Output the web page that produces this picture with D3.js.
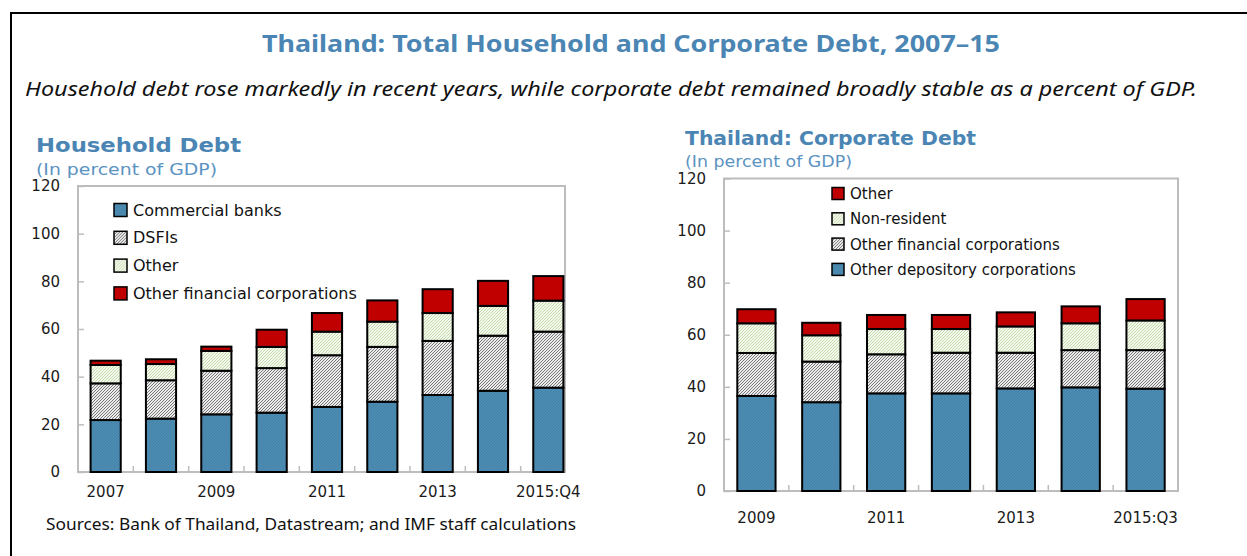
<!DOCTYPE html>
<html>
<head>
<meta charset="utf-8">
<script src="https://cdn.jsdelivr.net/npm/d3@7"></script>
<style>
  body { margin: 0; background: #fff; }
  svg { display: block; }
  .tick text { font-family: "DejaVu Sans", sans-serif; font-size: 15px; fill: #1a1a1a; }
</style>
</head>
<body>
<div id="chart"></div>
<script>
// Household debt, percent of GDP (segment sizes)
var hhCats = ["2007", "2008", "2009", "2010", "2011", "2012", "2013", "2014", "2015:Q4"];
var hhLabels = ["2007", "", "2009", "", "2011", "", "2013", "", "2015:Q4"];
var hhCommercial = [21.8, 22.4, 24.2, 24.9, 27.3, 29.5, 32.3, 34.1, 35.4];
var hhDSFI = [15.4, 16.1, 18.3, 18.7, 21.7, 23.0, 22.7, 23.1, 23.5];
var hhOther = [7.7, 6.8, 8.3, 8.9, 9.9, 10.6, 11.7, 12.5, 13.0];
var hhOFC = [1.8, 2.0, 1.8, 7.2, 7.8, 8.9, 10.0, 10.5, 10.3];

// Corporate debt, percent of GDP (segment sizes)
var cdCats = ["2009", "2010", "2011", "2012", "2013", "2014", "2015:Q3"];
var cdLabels = ["2009", "", "2011", "", "2013", "", "2015:Q3"];
var cdODC = [36.5, 34.1, 37.5, 37.5, 39.4, 39.8, 39.3];
var cdOFC = [16.5, 15.6, 15.0, 15.6, 13.7, 14.3, 14.8];
var cdNonRes = [11.4, 10.1, 9.7, 9.1, 10.1, 10.3, 11.4];
var cdOther = [5.4, 4.8, 5.4, 5.4, 5.4, 6.5, 8.2];

var yTicks = [0, 20, 40, 60, 80, 100, 120];

var w = 1247;
var h = 556;
var blue = "#4a85b4";

var svg = d3.select("#chart").append("svg")
  .attr("width", w)
  .attr("height", h);

// Fill patterns
var defs = svg.append("defs");

function hatch(id, bg, line, size, sw) {
  var p = defs.append("pattern")
    .attr("id", id)
    .attr("patternUnits", "userSpaceOnUse")
    .attr("width", size)
    .attr("height", size);
  p.append("rect").attr("width", size).attr("height", size).attr("fill", bg);
  p.append("path")
    .attr("d", "M0," + size + "L" + size + ",0M-1,1L1,-1M" + (size - 1) + "," + (size + 1) + "L" + (size + 1) + "," + (size - 1))
    .attr("stroke", line)
    .attr("stroke-width", sw);
}
hatch("pBlue", "#4d8cb2", "#427fa6", 3, 0.8);
hatch("pGray", "#ececec", "#505050", 3, 0.75);
hatch("pGreen", "#f5f9ee", "#bcd6a4", 3, 0.9);

// Outer frame
svg.append("path")
  .attr("d", "M11,570V13H1260")
  .attr("fill", "none")
  .attr("stroke", "#000")
  .attr("stroke-width", 2);

// Main title and subtitle
svg.append("text")
  .attr("x", 262).attr("y", 52)
  .attr("textLength", 738).attr("lengthAdjust", "spacingAndGlyphs")
  .style("font-family", "Noto Sans").style("font-weight", "bold").style("font-size", "23px")
  .style("fill", blue)
  .text("Thailand: Total Household and Corporate Debt, 2007–15");

svg.append("text")
  .attr("x", 25).attr("y", 96)
  .attr("textLength", 1172).attr("lengthAdjust", "spacingAndGlyphs")
  .style("font-family", "Noto Sans").style("font-style", "italic").style("font-size", "20px")
  .style("fill", "#111")
  .text("Household debt rose markedly in recent years, while corporate debt remained broadly stable as a percent of GDP.");

function drawPanel(o) {
  var g = svg.append("g");

  var xScale = d3.scaleBand()
    .domain(o.cats)
    .range([o.x0, o.x1])
    .paddingInner(o.pad)
    .paddingOuter(o.pad / 2);

  var yScale = d3.scaleLinear()
    .domain([0, 120])
    .range([o.y0, o.y1]);

  // Panel titles
  g.append("text")
    .attr("x", o.titleX).attr("y", o.titleY)
    .attr("textLength", o.titleLen).attr("lengthAdjust", "spacingAndGlyphs")
    .style("font-family", "DejaVu Sans").style("font-weight", "bold").style("font-size", "20px")
    .style("fill", blue)
    .text(o.title);
  g.append("text")
    .attr("x", o.titleX).attr("y", o.subY)
    .attr("textLength", o.subLen).attr("lengthAdjust", "spacingAndGlyphs")
    .style("font-family", "DejaVu Sans").style("font-size", "15px")
    .style("fill", "#5b93c2")
    .text("(In percent of GDP)");

  // Plot frame
  g.append("rect")
    .attr("x", o.x0).attr("y", yScale(120))
    .attr("width", o.frameR - o.x0).attr("height", yScale(0) - yScale(120))
    .attr("fill", "none")
    .attr("stroke", "#bdbdbd")
    .attr("stroke-width", 2);

  // Y axis
  var yAxis = d3.axisLeft(yScale)
    .tickValues(yTicks)
    .tickSize(-6)
    .tickPadding(18);
  var ya = g.append("g")
    .attr("transform", "translate(" + o.x0 + ",0)")
    .call(yAxis);
  ya.select(".domain").remove();
  ya.selectAll("line").attr("stroke", "#bdbdbd").attr("stroke-width", 1.5);

  // X axis labels
  var xAxis = d3.axisBottom(xScale)
    .tickSize(0)
    .tickPadding(o.xPad)
    .tickFormat(function(d, i) { return o.labels[i]; });
  var xa = g.append("g")
    .attr("transform", "translate(0," + o.y0 + ")")
    .call(xAxis);
  xa.select(".domain").remove();

  // Tick marks at category boundaries
  var step = xScale.step();
  var bounds = o.cats.slice(1).map(function(c) {
    return xScale(c) - step * o.pad / 2;
  });
  g.selectAll(".bnd")
    .data(bounds)
    .enter().append("line")
    .attr("x1", function(d) { return d; })
    .attr("x2", function(d) { return d; })
    .attr("y1", o.y0)
    .attr("y2", o.y0 - 6)
    .attr("stroke", "#bdbdbd")
    .attr("stroke-width", 1.5);

  // Stacked bars
  var rows = o.cats.map(function(c, i) {
    var r = { cat: c };
    o.series.forEach(function(s) { r[s.key] = s.values[i]; });
    return r;
  });
  var stack = d3.stack().keys(o.series.map(function(s) { return s.key; }));
  var layers = stack(rows);

  g.selectAll(".layer")
    .data(layers)
    .enter().append("g")
    .attr("fill", function(d, i) { return o.series[i].fill; })
    .selectAll("rect")
    .data(function(d) { return d; })
    .enter().append("rect")
    .attr("x", function(d) { return xScale(d.data.cat); })
    .attr("y", function(d) { return yScale(d[1]); })
    .attr("width", xScale.bandwidth())
    .attr("height", function(d) { return yScale(d[0]) - yScale(d[1]); })
    .attr("stroke", "#000")
    .attr("stroke-width", 2);

  // Legend
  var leg = g.selectAll(".leg")
    .data(o.legend)
    .enter().append("g")
    .attr("transform", function(d, i) {
      return "translate(" + o.legX + "," + (o.legY + i * o.legStep) + ")";
    });
  leg.append("rect")
    .attr("x", 0).attr("y", -o.sq / 2)
    .attr("width", o.sq).attr("height", o.sq)
    .attr("fill", function(d) { return d.fill; })
    .attr("stroke", "#000")
    .attr("stroke-width", 1.5);
  leg.append("text")
    .attr("x", o.sq + 6)
    .attr("y", 5.5)
    .style("font-family", "DejaVu Sans").style("font-size", o.legFont)
    .style("fill", "#111")
    .text(function(d) { return d.name; });
}

drawPanel({
  cats: hhCats, labels: hhLabels,
  x0: 78, x1: 576, frameR: 565, pad: 0.455,
  y0: 472, y1: 186, xPad: 14,
  title: "Household Debt", titleX: 36, titleY: 152, titleLen: 205,
  subY: 175, subLen: 181,
  series: [
    { key: "cb", values: hhCommercial, fill: "url(#pBlue)" },
    { key: "dsfi", values: hhDSFI, fill: "url(#pGray)" },
    { key: "oth", values: hhOther, fill: "url(#pGreen)" },
    { key: "ofc", values: hhOFC, fill: "#c00000" }
  ],
  legend: [
    { name: "Commercial banks", fill: "url(#pBlue)" },
    { name: "DSFIs", fill: "url(#pGray)" },
    { name: "Other", fill: "url(#pGreen)" },
    { name: "Other financial corporations", fill: "#c00000" }
  ],
  legX: 114, legY: 210, legStep: 27.8, sq: 13, legFont: "16px"
});

drawPanel({
  cats: cdCats, labels: cdLabels,
  x0: 724, x1: 1178, frameR: 1178, pad: 0.41,
  y0: 491, y1: 178.5, xPad: 21,
  title: "Thailand: Corporate Debt", titleX: 685, titleY: 145, titleLen: 291,
  subY: 167, subLen: 167,
  series: [
    { key: "odc", values: cdODC, fill: "url(#pBlue)" },
    { key: "ofc", values: cdOFC, fill: "url(#pGray)" },
    { key: "nr", values: cdNonRes, fill: "url(#pGreen)" },
    { key: "oth", values: cdOther, fill: "#c00000" }
  ],
  legend: [
    { name: "Other", fill: "#c00000" },
    { name: "Non-resident", fill: "url(#pGreen)" },
    { name: "Other financial corporations", fill: "url(#pGray)" },
    { name: "Other depository corporations", fill: "url(#pBlue)" }
  ],
  legX: 832, legY: 193.5, legStep: 25.3, sq: 12, legFont: "15px"
});

// Sources note
svg.append("text")
  .attr("x", 46).attr("y", 530)
  .attr("textLength", 530).attr("lengthAdjust", "spacingAndGlyphs")
  .style("font-family", "Noto Sans").style("font-size", "15.5px")
  .style("fill", "#111")
  .text("Sources: Bank of Thailand, Datastream; and IMF staff calculations");
</script>
</body>
</html>
